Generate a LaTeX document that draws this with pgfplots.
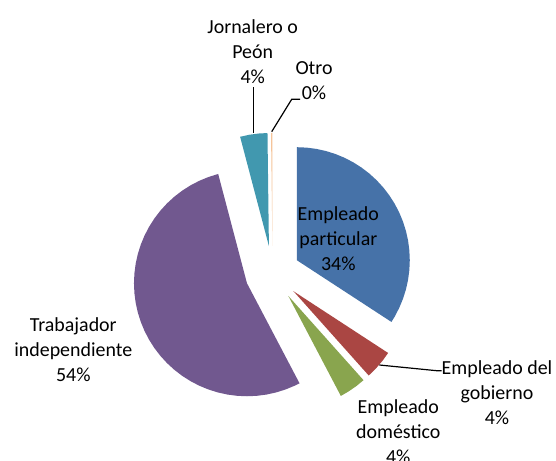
\documentclass[border=0pt]{standalone}
\usepackage{pgfplots}
\pgfplotsset{compat=1.18}
\usepgfplotslibrary{polar}
\usepackage{fontspec}
\setmainfont{Carlito}
\definecolor{cBlue}{HTML}{4672A8}
\definecolor{cRed}{HTML}{AA4643}
\definecolor{cGreen}{HTML}{89A54E}
\definecolor{cPurple}{HTML}{71588F}
\definecolor{cTeal}{HTML}{4198AF}
\definecolor{cOrange}{HTML}{F5C49A}
% Shares (%): Empleado particular 34.2, Empleado del gobierno 4.2,
% Empleado domestico 3.9, Trabajador independiente 53.6,
% Jornalero o Peon 3.9, Otro 0.2  -> angles 3.6 deg per percent, clockwise from top
\begin{document}
\begin{tikzpicture}[lbl/.style={font=\fontsize{20}{25}\selectfont, align=center, text=black, inner sep=0pt}]
\begin{axis}[
  x=1bp, y=1bp,
  xmin=-272.6, xmax=283.4, ymin=-187.7, ymax=273.3,
  hide axis, clip=false,
  every axis plot/.append style={draw=none, mark=none},
]
% Empleado particular 34%
\addplot[fill=cBlue, data cs=polar, xshift=24.18bp, yshift=13.10bp] coordinates {
 (90,0) (90,113) (85,113) (80,113) (75,113) (70,113) (65,113) (60,113) (55,113)
 (50,113) (45,113) (40,113) (35,113) (30,113) (25,113) (20,113) (15,113) (10,113)
 (5,113) (0,113) (-5,113) (-10,113) (-15,113) (-20,113) (-25,113) (-30,113)
 (-33.12,113) (-33.12,0)};
% Empleado del gobierno 4%
\addplot[fill=cRed, data cs=polar, xshift=20.86bp, yshift=-17.92bp] coordinates {
 (-33.12,0) (-33.12,113) (-38,113) (-43,113) (-48.24,113) (-48.24,0)};
% Empleado domestico 4%
\addplot[fill=cGreen, data cs=polar, xshift=15.67bp, yshift=-22.60bp] coordinates {
 (-48.24,0) (-48.24,113) (-53,113) (-58,113) (-62.28,113) (-62.28,0)};
% Trabajador independiente 54%
\addplot[fill=cPurple, data cs=polar, xshift=-25.63bp, yshift=-9.96bp] coordinates {
 (-62.28,0) (-62.28,113) (-65,113) (-70,113) (-75,113) (-80,113) (-85,113) (-90,113)
 (-95,113) (-100,113) (-105,113) (-110,113) (-115,113) (-120,113) (-125,113)
 (-130,113) (-135,113) (-140,113) (-145,113) (-150,113) (-155,113) (-160,113)
 (-165,113) (-170,113) (-175,113) (-180,113) (-185,113) (-190,113) (-195,113)
 (-200,113) (-205,113) (-210,113) (-215,113) (-220,113) (-225,113) (-230,113)
 (-235,113) (-240,113) (-245,113) (-250,113) (-255,113) (-255.24,113) (-255.24,0)};
% Jornalero o Peon 4%
\addplot[fill=cTeal, data cs=polar, xshift=-3.70bp, yshift=27.25bp] coordinates {
 (-255.24,0) (-255.24,113) (-260,113) (-265,113) (-269.28,113) (-269.28,0)};
% Otro 0%
\addplot[fill=cOrange, data cs=polar, xshift=-0.17bp, yshift=27.50bp] coordinates {
 (-269.28,0) (-269.28,113) (-270,113) (-270,0)};

% leader lines
\draw[black, line width=1.2bp] (axis cs:106.7,-91.7) -- (axis cs:164.1,-97.4) -- (axis cs:169.1,-97.4);
\draw[black, line width=1.2bp] (axis cs:-19.3,186) -- (axis cs:-19.3,140.6);
\draw[black, line width=1.2bp] (axis cs:-0.9,141.6) -- (axis cs:19.1,174) -- (axis cs:27.4,174);

% labels
\node[lbl] at (axis cs:65.7,35.0) {Empleado\\particular\\34\%};
\node[lbl] at (axis cs:224.4,-119.2) {Empleado del\\gobierno\\4\%};
\node[lbl] at (axis cs:125.7,-158.7) {Empleado\\doméstico\\4\%};
\node[lbl] at (axis cs:-199.3,-76.0) {Trabajador\\independiente\\54\%};
\node[lbl] at (axis cs:-19.9,221.6) {Jornalero o\\Peón\\4\%};
\node[lbl] at (axis cs:41.4,192.5) {Otro\\0\%};
\end{axis}
\pgfresetboundingbox
\path[use as bounding box] (current axis.south west) rectangle (current axis.north east);
\end{tikzpicture}
\end{document}
